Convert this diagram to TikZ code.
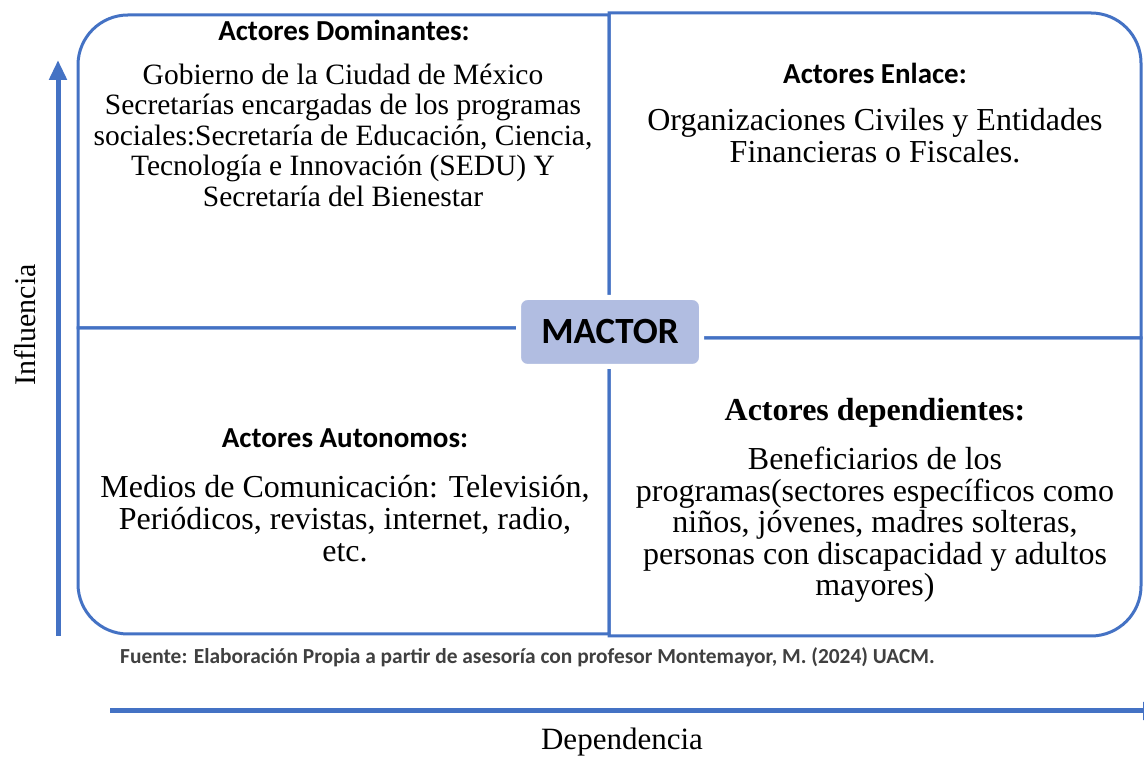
\documentclass[tikz,border=0pt]{standalone}
\usepackage{fontspec}
\setmainfont{Liberation Serif}
\newfontfamily\calfont{Carlito}
\usetikzlibrary{arrows.meta}
\definecolor{4472c4}{HTML}{4472C4}
\definecolor{b4c0e2}{HTML}{B1BDE1}
\definecolor{404040}{HTML}{404040}
\tikzset{
  quad/.style={draw=4472c4,line width=3pt},
  axis/.style={draw=4472c4,line width=5pt,-{Triangle[width=17pt,length=20pt]}},
  headtxt/.style={inner sep=0,font=\calfont\bfseries\fontsize{29}{31}\selectfont},
  bodytxt/.style={inner sep=0,align=center,font=\fontsize{32}{32}\selectfont},
}
\begin{document}
\begin{tikzpicture}[x=1pt,y=1pt]
    \useasboundingbox(0,0)rectangle(1144,757);
    \newcommand{\RR}{50}
    % quadrants
    \draw[quad](609,429)--(78,429)--(78,742-\RR)arc[start angle=180,end angle=90,radius=\RR]--(609,742)--cycle;
    \draw[quad](609,419)--(609,744)--(1141-\RR,744)arc[start angle=90,end angle=0,radius=\RR]--(1141,419)--cycle;
    \draw[quad](609,429)--(78,429)--(78,123+\RR)arc[start angle=180,end angle=270,radius=\RR]--(609,123)--cycle;
    \draw[quad](609,419)--(1141,419)--(1141,121+\RR)arc[start angle=0,end angle=-90,radius=\RR]--(609,121)--cycle;
    \node[fill=b4c0e2,draw=white,line width=5pt,rounded corners=9pt,minimum width=183pt,minimum height=69pt,
      font=\calfont\bfseries\fontsize{37}{40}\selectfont](mactor)at(610,425){MACTOR};
    % texts
    \node[headtxt](dom)at(344,727){Actores Dominantes:};
    \node[bodytxt,font=\fontsize{29.5}{30.5}\selectfont](domtxt)at(343,622){Gobierno de la Ciudad de México\\
      Secretarías encargadas de los programas\\ sociales:Secretaría de Educación, Ciencia,\\
      Tecnología e Innovación (SEDU) Y\\ Secretaría del Bienestar};
    \node[headtxt](enl)at(875,684){Actores Enlace:};
    \node[bodytxt](enltxt)at(875,621){Organizaciones Civiles y Entidades\\ Financieras o Fiscales.};
    \node[headtxt](aut)at(345,319){Actores Autonomos:};
    \node[bodytxt](auttxt)at(345,238){Medios de Comunicación: Televisión,\\ Periódicos, revistas, internet, radio,\\ etc.};
    \node[inner sep=0,font=\bfseries\fontsize{32}{32}\selectfont](dep)at(875,344){Actores dependientes:};
    \node[bodytxt,font=\fontsize{32}{31.5}\selectfont](deptxt)at(875,232){Beneficiarios de los\\
      programas(sectores específicos como\\ niños, jóvenes, madres solteras,\\
      personas con discapacidad y adultos\\ mayores)};
    % axes
    \coordinate(ybot)at(58,121);
    \coordinate(ytop)at(58,697);
    \coordinate(xbeg)at(110,46);
    \coordinate(xend)at(1163,46);
    \draw[axis](ybot)--(ytop);
    \draw[axis](xbeg)--(xend);
    \node[inner sep=0,rotate=90,font=\fontsize{30}{30}\selectfont](infl)at(25,432){Influencia};
    \node[inner sep=0,font=\fontsize{31}{31}\selectfont](dpd)at(622,15){Dependencia};
    \node[inner sep=0,anchor=west,text=404040,font=\calfont\bfseries\fontsize{21.4}{23}\selectfont](src)at(120,100)
      {Fuente: Elaboración Propia a partir de asesoría con profesor Montemayor, M. (2024) UACM.};
\end{tikzpicture}
\end{document}
